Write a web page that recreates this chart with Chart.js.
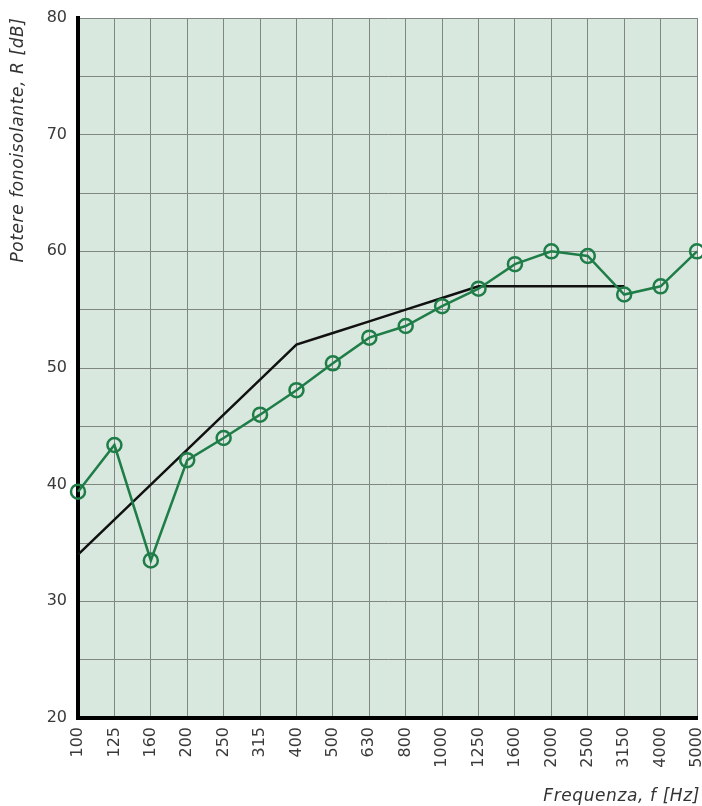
<!DOCTYPE html>
<html>
<head>
<meta charset="utf-8">
<script src="https://cdn.jsdelivr.net/npm/chart.js@4/dist/chart.umd.min.js"></script>
<style>
  html, body { margin: 0; padding: 0; background: #fff; }
  #wrap { width: 702px; height: 806px; }
</style>
</head>
<body>
<div id="wrap"><canvas id="chart" width="702" height="806"></canvas></div>
<script>
const frequencies = ['100', '125', '160', '200', '250', '315', '400', '500', '630', '800',
  '1000', '1250', '1600', '2000', '2500', '3150', '4000', '5000'];
const measured = [39.4, 43.4, 33.5, 42.1, 44, 46, 48.1, 50.4, 52.6, 53.6,
  55.3, 56.8, 58.9, 60, 59.6, 56.3, 57, 60];
const referenceCurve = [34, 37, 40, 43, 46, 49, 52, 53, 54, 55,
  56, 57, 57, 57, 57, 57, null, null];

const yTitle = 'Potere fonoisolante, R [dB]';
const xTitle = 'Frequenza, f [Hz]';

const FONT = '"DejaVu Sans", Verdana, sans-serif';

const plotBg = {
  id: 'plotBg',
  beforeDraw(chart) {
    const { ctx, chartArea: a } = chart;
    ctx.save();
    ctx.fillStyle = '#d9e8df';
    ctx.fillRect(a.left, a.top, a.right - a.left, a.bottom - a.top);
    ctx.restore();
  },
  afterDraw(chart) {
    const ctx = chart.ctx;
    ctx.save();
    ctx.fillStyle = '#333';
    ctx.font = 'italic 17px ' + FONT;
    ctx.letterSpacing = '0.6px';
    // y title, rotated
    ctx.translate(19, 140);
    ctx.rotate(-Math.PI / 2);
    ctx.textAlign = 'center';
    ctx.textBaseline = 'middle';
    ctx.fillText(yTitle, 0, 0);
    ctx.restore();
    ctx.save();
    ctx.fillStyle = '#333';
    ctx.font = 'italic 17px ' + FONT;
    ctx.letterSpacing = '0.6px';
    ctx.textAlign = 'right';
    ctx.textBaseline = 'middle';
    ctx.fillText(xTitle, 700, 797);
    ctx.restore();
  }
};

new Chart(document.getElementById('chart'), {
  type: 'line',
  data: {
    labels: frequencies,
    datasets: [{
      label: 'R misurato',
      data: measured,
      borderColor: '#1f7d48',
      borderWidth: 2.5,
      pointRadius: 7,
      pointBorderWidth: 2.5,
      pointBackgroundColor: 'rgba(0,0,0,0)',
      pointBorderColor: '#1f7d48',
      tension: 0,
      clip: false
    }, {
      label: 'Curva di riferimento',
      data: referenceCurve,
      borderColor: '#111',
      borderWidth: 2.5,
      pointRadius: 0,
      tension: 0,
      spanGaps: false
    }]
  },
  options: {
    responsive: false,
    animation: false,
    layout: { autoPadding: false, padding: { top: 18, right: 5 } },
    plugins: {
      legend: { display: false },
      tooltip: { enabled: false }
    },
    scales: {
      x: {
        offset: false,
        grid: { color: '#808783', lineWidth: 1, drawTicks: false },
        border: { color: '#000', width: 4 },
        ticks: {
          minRotation: 90, maxRotation: 90, autoSkip: false,
          padding: 9,
          color: '#3a3a3a',
          font: { family: FONT, size: 16 }
        },
        afterFit(scale) {
          scale.height = 88;
          scale.paddingLeft = 0;
          scale.paddingRight = 0;
        }
      },
      y: {
        min: 20, max: 80,
        grid: { color: '#808783', lineWidth: 1, drawTicks: false },
        border: { color: '#000', width: 4 },
        ticks: {
          stepSize: 5,
          padding: 11,
          color: '#3a3a3a',
          font: { family: FONT, size: 16 },
          callback: v => (v % 10 === 0 ? v : '')
        },
        afterFit(scale) {
          scale.width = 78;
          scale.paddingTop = 0;
          scale.paddingBottom = 0;
        }
      }
    }
  },
  plugins: [plotBg]
});
</script>
</body>
</html>
